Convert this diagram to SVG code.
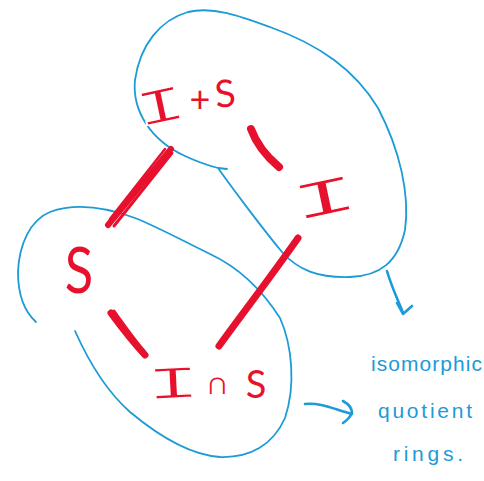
<svg xmlns="http://www.w3.org/2000/svg" width="484" height="481" viewBox="0 0 484 481">
<style>
.blob{fill:none;stroke:#1b9bd7;stroke-width:1.8;stroke-linecap:round;stroke-linejoin:round}
.arr{fill:none;stroke:#1b9bd7;stroke-width:2.6;stroke-linecap:round;stroke-linejoin:round}
.edge{fill:none;stroke:#e8112d;stroke-linecap:round;stroke-linejoin:round}
.lbl{fill:#e8112d;font-family:Lato,"Liberation Sans","DejaVu Sans",sans-serif;font-weight:400;text-anchor:middle}
.bar{fill:#e8112d;stroke:#ffffff;stroke-width:1.8;vector-effect:non-scaling-stroke;font-family:"Liberation Mono","DejaVu Sans Mono",monospace;text-anchor:middle}
.note{fill:#1b9bd7;font-family:"Liberation Sans","DejaVu Sans",sans-serif;font-size:21px}
</style>
<rect width="484" height="481" fill="#ffffff"/>
<g id="regions">
<path id="blob-top" class="blob" d="M227,169 L218,168 C230,185 262,228 282,252 C298,270 318,278 350,277 C380,276 398,262 405,230 C410,195 400,150 378,108 C355,70 320,45 270,27 C240,16 213,6 188,12 C160,20 140,45 135,80 C132,110 150,140 185,156 C198,162 210,166 218,168"/>
<path id="blob-bottom" class="blob" d="M36,322 C25,312 18,295 18,272 C19,245 30,220 50,212 C75,203 105,207 135,218 C160,228 185,242 210,254 C240,268 262,290 280,318 C292,345 296,385 285,418 C273,445 250,458 220,457 C190,455 160,437 130,412 C105,390 88,360 75,331"/>
</g>
<g id="connectors">
<path class="edge" stroke-width="6" d="M171,149 L108,225"/>
<path class="edge" stroke-width="2.5" d="M165,149 L110,219"/>
<path class="edge" stroke-width="3" d="M172,153 L114,226"/>
<path class="edge" stroke-width="8" d="M251,129 C256,143 266,156 279,167"/>
<path class="edge" stroke-width="7" d="M298,238 C270,278 245,310 219,346"/>
<path class="edge" stroke-width="7" d="M111,313 C122,328 133,342 145,355"/>
<path class="edge" stroke-width="3" d="M114,311 C124,325 134,339 144,351"/>
<path class="arr" d="M387,271 C392,288 398,300 403,313"/>
<path class="arr" d="M397,303 L403,314 L412,306"/>
<path class="arr" d="M305,404 C320,402 336,410 352,414"/>
<path class="arr" d="M343,401 Q352,406 352,413 Q349,419 343,423"/>
</g>
<g id="n-IplusS">
<text class="bar" x="0" y="0" font-size="50" transform="translate(164 122) rotate(-12) scale(1.7 1)">I</text>
<text class="lbl" x="200" y="112" font-size="36">+</text>
<text class="lbl" x="225" y="107" font-size="38" transform="rotate(-6 225 93)">S</text>
</g>
<g id="n-I">
<text class="bar" x="0" y="0" font-size="52" transform="translate(328 214) rotate(-12) scale(2.2 1)">I</text>
</g>
<g id="n-S">
<text class="lbl" x="0" y="0" font-size="64" font-weight="300" transform="translate(79 293) scale(0.82 1)">S</text>
</g>
<g id="n-IcapS">
<text class="bar" x="0" y="0" font-size="46" transform="translate(174 398) rotate(-3) scale(2.0 1)">I</text>
<text class="lbl" x="217" y="394" font-size="30">∩</text>
<text class="lbl" x="256" y="398" font-size="38">S</text>
</g>
<g id="annotation">
<text class="note" x="371" y="371" textLength="111">isomorphic</text>
<text class="note" x="378" y="418" textLength="94">quotient</text>
<text class="note" x="393" y="461" textLength="70">rings.</text>
</g>
</svg>
